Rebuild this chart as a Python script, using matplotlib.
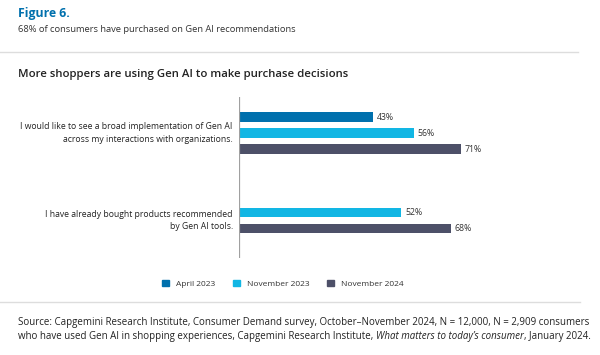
import matplotlib
matplotlib.use("Agg")
import matplotlib.pyplot as plt
import numpy as np

plt.rcParams['font.family'] = ['Open Sans', 'DejaVu Sans']

W, H = 600, 355

categories = ["I would like to see a broad implementation of Gen AI\nacross my interactions with organizations.",
              "I have already bought products recommended\nby Gen AI tools."]
series = ["April 2023", "November 2023", "November 2024"]
april_2023 = [43, None]
nov_2023 = [56, 52]
nov_2024 = [71, 68]
colors = ["#0070AD", "#12B6E4", "#4D5068"]

def px(x, y):
    # pixel coords (top-left origin) -> figure fraction
    return x / W, 1 - y / H

fig = plt.figure(figsize=(W / 100, H / 100), dpi=100)

# header
fig.text(*px(18, 14), "Figure 6.", fontsize=8.8, fontweight="bold", color="#0070AD", va="center")
fig.text(*px(18, 29), "68% of consumers have purchased on Gen AI recommendations",
         fontsize=6.75, color="#333333", va="center")
fig.add_artist(plt.Line2D([0, 578 / W], [1 - 51.5 / H] * 2, color="#dddddd", lw=1))
fig.text(*px(18, 75), "More shoppers are using Gen AI to make purchase decisions",
         fontsize=8.2, color="#222222", va="center", fontweight="semibold")

# chart area: x 0..100 mapped to px 239..551, y in bar slots
top, bottom = 97, 258
ax = fig.add_axes([239 / W, 1 - bottom / H, 312 / W, (bottom - top) / H])
slot = 16.0
g_centers = np.array([133, 212.5])
ax.set_xlim(0, 100)
ax.set_ylim((bottom - g_centers[0]) / slot, -(g_centers[0] - top) / slot)
ax.axis("off")
ax.axvline(0, color="#a0a0a0", lw=1.6)

group_pos = (g_centers - g_centers[0]) / slot
offsets = [-1, 0, 1]
for vals, name, col, off in zip([april_2023, nov_2023, nov_2024], series, colors, offsets):
    for gi, v in enumerate(vals):
        if v is None:
            continue
        y = group_pos[gi] + off
        ax.barh(y, v, height=0.6, color=col)
        ax.text(v + 1.2, y, f"{v}%", fontsize=6.3, color="#333333", va="center", ha="left")

for gi, cat in enumerate(categories):
    yc = group_pos[gi] if gi == 0 else group_pos[gi] + 0.5
    ax.text(-2, yc, cat, fontsize=6.2, color="#222222", ha="right", va="center",
            linespacing=1.45, clip_on=False)

handles = [plt.Rectangle((0, 0), 1, 1, color=c) for c in colors]
fig.legend(handles, series, loc="center", bbox_to_anchor=px(283, 284), ncol=3, frameon=False,
           fontsize=6, handlelength=0.8, handleheight=0.8, handletextpad=0.9, columnspacing=2.1,
           labelcolor="#333333")

fig.add_artist(plt.Line2D([0, 580 / W], [1 - 302 / H] * 2, color="#dddddd", lw=1))
fig.text(*px(18, 322), "Source: Capgemini Research Institute, Consumer Demand survey, October–November 2024, "
         "N = 12,000, N = 2,909 consumers", fontsize=7.0, color="#222222", va="center")
t1 = fig.text(*px(18, 336), "who have used Gen AI in shopping experiences, Capgemini Research Institute, ",
              fontsize=7.0, color="#222222", va="center")
t2 = ax.annotate("What matters to today\u2019s consumer", xy=(1, 0), xycoords=t1, va="bottom",
                 fontsize=7.0, color="#222222", style="italic", annotation_clip=False)
ax.annotate(", January 2024.", xy=(1, 0), xycoords=t2, va="bottom",
            fontsize=7.0, color="#222222", annotation_clip=False)

fig.savefig("out.png", dpi=100, facecolor="white")
